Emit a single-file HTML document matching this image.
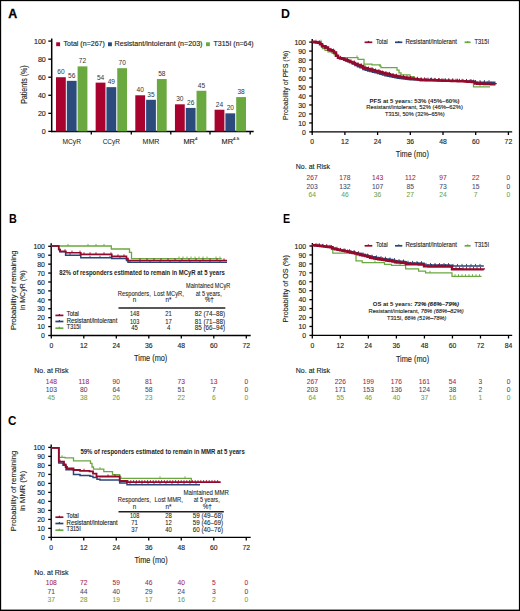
<!DOCTYPE html>
<html><head><meta charset="utf-8"><style>
html,body{margin:0;padding:0;background:#fff;}
svg{display:block;font-family:"Liberation Sans", sans-serif;}
</style></head><body>
<svg width="520" height="611" viewBox="0 0 520 611">
<text x="8.2" y="17.5" font-size="12.4" font-weight="bold" stroke="#000" stroke-width="0.3" fill="#000">A</text>
<line x1="51.7" y1="38.5" x2="51.7" y2="132.1" stroke="#000" stroke-width="1.5"/>
<line x1="51.0" y1="131.4" x2="253.7" y2="131.4" stroke="#000" stroke-width="1.5"/>
<line x1="48.3" y1="131.4" x2="51.7" y2="131.4" stroke="#000" stroke-width="1.3"/>
<text x="45.8" y="133.9" font-size="7.1" text-anchor="end" stroke="#231f20" stroke-width="0.13" fill="#231f20">0</text>
<line x1="48.3" y1="113.34" x2="51.7" y2="113.34" stroke="#000" stroke-width="1.3"/>
<text x="45.8" y="115.84" font-size="7.1" text-anchor="end" stroke="#231f20" stroke-width="0.13" fill="#231f20">20</text>
<line x1="48.3" y1="95.28" x2="51.7" y2="95.28" stroke="#000" stroke-width="1.3"/>
<text x="45.8" y="97.78" font-size="7.1" text-anchor="end" stroke="#231f20" stroke-width="0.13" fill="#231f20">40</text>
<line x1="48.3" y1="77.22" x2="51.7" y2="77.22" stroke="#000" stroke-width="1.3"/>
<text x="45.8" y="79.72" font-size="7.1" text-anchor="end" stroke="#231f20" stroke-width="0.13" fill="#231f20">60</text>
<line x1="48.3" y1="59.16" x2="51.7" y2="59.16" stroke="#000" stroke-width="1.3"/>
<text x="45.8" y="61.66" font-size="7.1" text-anchor="end" stroke="#231f20" stroke-width="0.13" fill="#231f20">80</text>
<line x1="48.3" y1="41.10000000000001" x2="51.7" y2="41.10000000000001" stroke="#000" stroke-width="1.3"/>
<text x="45.8" y="43.60000000000001" font-size="7.1" text-anchor="end" stroke="#231f20" stroke-width="0.13" fill="#231f20">100</text>
<line x1="91.3" y1="131.4" x2="91.3" y2="134.6" stroke="#000" stroke-width="1.3"/>
<line x1="131.3" y1="131.4" x2="131.3" y2="134.6" stroke="#000" stroke-width="1.3"/>
<line x1="170.8" y1="131.4" x2="170.8" y2="134.6" stroke="#000" stroke-width="1.3"/>
<line x1="210.0" y1="131.4" x2="210.0" y2="134.6" stroke="#000" stroke-width="1.3"/>
<line x1="250.2" y1="131.4" x2="250.2" y2="134.6" stroke="#000" stroke-width="1.3"/>
<text x="27.1" y="84.6" font-size="8.6" text-anchor="middle" stroke="#231f20" stroke-width="0.13" fill="#231f20" textLength="38.5" lengthAdjust="spacingAndGlyphs" transform="rotate(-90 27.1 84.6)">Patients (%)</text>
<rect x="56.0" y="77.22" width="9.8" height="54.18" fill="#a8022e"/>
<text x="60.9" y="74.12" font-size="6.6" text-anchor="middle" fill="#333">60</text>
<rect x="66.8" y="80.83200000000001" width="9.8" height="50.568" fill="#2c4b7d"/>
<text x="71.7" y="77.73200000000001" font-size="6.6" text-anchor="middle" fill="#333">56</text>
<rect x="77.6" y="66.384" width="9.8" height="65.016" fill="#6aa840"/>
<text x="82.5" y="63.284" font-size="6.6" text-anchor="middle" fill="#333">72</text>
<text x="71.7" y="143.9" font-size="7.4" text-anchor="middle" stroke="#231f20" stroke-width="0.05" fill="#231f20" textLength="18.5" lengthAdjust="spacingAndGlyphs">MCyR</text>
<rect x="95.65" y="82.638" width="9.8" height="48.762" fill="#a8022e"/>
<text x="100.55000000000001" y="79.53800000000001" font-size="6.6" text-anchor="middle" fill="#333">54</text>
<rect x="106.45" y="87.153" width="9.8" height="44.247" fill="#2c4b7d"/>
<text x="111.35000000000001" y="84.05300000000001" font-size="6.6" text-anchor="middle" fill="#333">49</text>
<rect x="117.25" y="68.19" width="9.8" height="63.21" fill="#6aa840"/>
<text x="122.15" y="65.09" font-size="6.6" text-anchor="middle" fill="#333">70</text>
<text x="111.35000000000001" y="143.9" font-size="7.4" text-anchor="middle" stroke="#231f20" stroke-width="0.05" fill="#231f20" textLength="17.4" lengthAdjust="spacingAndGlyphs">CCyR</text>
<rect x="135.3" y="95.28" width="9.8" height="36.120000000000005" fill="#a8022e"/>
<text x="140.20000000000002" y="92.18" font-size="6.6" text-anchor="middle" fill="#333">40</text>
<rect x="146.10000000000002" y="99.795" width="9.8" height="31.605" fill="#2c4b7d"/>
<text x="151.00000000000003" y="96.69500000000001" font-size="6.6" text-anchor="middle" fill="#333">35</text>
<rect x="156.9" y="79.02600000000001" width="9.8" height="52.374" fill="#6aa840"/>
<text x="161.8" y="75.92600000000002" font-size="6.6" text-anchor="middle" fill="#333">58</text>
<text x="151.0" y="143.9" font-size="7.4" text-anchor="middle" stroke="#231f20" stroke-width="0.05" fill="#231f20" textLength="16.8" lengthAdjust="spacingAndGlyphs">MMR</text>
<rect x="174.95" y="104.31" width="9.8" height="27.09" fill="#a8022e"/>
<text x="179.85" y="101.21000000000001" font-size="6.6" text-anchor="middle" fill="#333">30</text>
<rect x="185.75" y="107.922" width="9.8" height="23.478" fill="#2c4b7d"/>
<text x="190.65" y="104.822" font-size="6.6" text-anchor="middle" fill="#333">26</text>
<rect x="196.54999999999998" y="90.76500000000001" width="9.8" height="40.635" fill="#6aa840"/>
<text x="201.45" y="87.66500000000002" font-size="6.6" text-anchor="middle" fill="#333">45</text>
<text x="189.14999999999998" y="143.9" font-size="7.4" text-anchor="middle" stroke="#231f20" stroke-width="0.13" fill="#231f20">MR</text>
<text x="194.95" y="140.2" font-size="4.4" stroke="#231f20" stroke-width="0.13" fill="#231f20">4</text>
<rect x="214.6" y="109.72800000000001" width="9.8" height="21.672" fill="#a8022e"/>
<text x="219.5" y="106.62800000000001" font-size="6.6" text-anchor="middle" fill="#333">24</text>
<rect x="225.4" y="113.34" width="9.8" height="18.060000000000002" fill="#2c4b7d"/>
<text x="230.3" y="110.24000000000001" font-size="6.6" text-anchor="middle" fill="#333">20</text>
<rect x="236.2" y="97.08600000000001" width="9.8" height="34.314" fill="#6aa840"/>
<text x="241.1" y="93.98600000000002" font-size="6.6" text-anchor="middle" fill="#333">38</text>
<text x="227.29999999999998" y="143.9" font-size="7.4" text-anchor="middle" stroke="#231f20" stroke-width="0.13" fill="#231f20">MR</text>
<text x="233.1" y="140.2" font-size="4.4" stroke="#231f20" stroke-width="0.13" fill="#231f20">4.5</text>
<rect x="56.2" y="42.3" width="3.9" height="3.9" fill="#a8022e"/>
<text x="63.5" y="46.1" font-size="7.0" stroke="#231f20" stroke-width="0.13" fill="#231f20" textLength="41.4" lengthAdjust="spacingAndGlyphs">Total (n=267)</text>
<rect x="108.0" y="42.3" width="3.9" height="3.9" fill="#2c4b7d"/>
<text x="114.5" y="46.1" font-size="7.0" stroke="#231f20" stroke-width="0.13" fill="#231f20" textLength="88" lengthAdjust="spacingAndGlyphs">Resistant/intolerant (n=203)</text>
<rect x="206.0" y="42.3" width="3.9" height="3.9" fill="#6aa840"/>
<text x="213.5" y="46.1" font-size="7.0" stroke="#231f20" stroke-width="0.13" fill="#231f20" textLength="40.2" lengthAdjust="spacingAndGlyphs">T315I (n=64)</text>
<text x="281.0" y="17.5" font-size="12.4" font-weight="bold" fill="#000" textLength="8.9" lengthAdjust="spacingAndGlyphs">D</text>
<line x1="312.2" y1="39.1" x2="312.2" y2="132.5" stroke="#000" stroke-width="1.4"/>
<line x1="311.5" y1="131.9" x2="512.2" y2="131.9" stroke="#000" stroke-width="1.4"/>
<line x1="309.2" y1="131.9" x2="312.2" y2="131.9" stroke="#000" stroke-width="1.3"/>
<text x="305.9" y="134.65" font-size="6.9" text-anchor="end" stroke="#231f20" stroke-width="0.13" fill="#231f20">0</text>
<line x1="309.2" y1="122.92" x2="312.2" y2="122.92" stroke="#000" stroke-width="1.3"/>
<text x="305.9" y="125.67" font-size="6.9" text-anchor="end" stroke="#231f20" stroke-width="0.13" fill="#231f20">10</text>
<line x1="309.2" y1="113.94" x2="312.2" y2="113.94" stroke="#000" stroke-width="1.3"/>
<text x="305.9" y="116.69" font-size="6.9" text-anchor="end" stroke="#231f20" stroke-width="0.13" fill="#231f20">20</text>
<line x1="309.2" y1="104.96000000000001" x2="312.2" y2="104.96000000000001" stroke="#000" stroke-width="1.3"/>
<text x="305.9" y="107.71000000000001" font-size="6.9" text-anchor="end" stroke="#231f20" stroke-width="0.13" fill="#231f20">30</text>
<line x1="309.2" y1="95.98" x2="312.2" y2="95.98" stroke="#000" stroke-width="1.3"/>
<text x="305.9" y="98.73" font-size="6.9" text-anchor="end" stroke="#231f20" stroke-width="0.13" fill="#231f20">40</text>
<line x1="309.2" y1="87.0" x2="312.2" y2="87.0" stroke="#000" stroke-width="1.3"/>
<text x="305.9" y="89.75" font-size="6.9" text-anchor="end" stroke="#231f20" stroke-width="0.13" fill="#231f20">50</text>
<line x1="309.2" y1="78.02" x2="312.2" y2="78.02" stroke="#000" stroke-width="1.3"/>
<text x="305.9" y="80.77" font-size="6.9" text-anchor="end" stroke="#231f20" stroke-width="0.13" fill="#231f20">60</text>
<line x1="309.2" y1="69.03999999999999" x2="312.2" y2="69.03999999999999" stroke="#000" stroke-width="1.3"/>
<text x="305.9" y="71.78999999999999" font-size="6.9" text-anchor="end" stroke="#231f20" stroke-width="0.13" fill="#231f20">70</text>
<line x1="309.2" y1="60.06" x2="312.2" y2="60.06" stroke="#000" stroke-width="1.3"/>
<text x="305.9" y="62.81" font-size="6.9" text-anchor="end" stroke="#231f20" stroke-width="0.13" fill="#231f20">80</text>
<line x1="309.2" y1="51.08" x2="312.2" y2="51.08" stroke="#000" stroke-width="1.3"/>
<text x="305.9" y="53.83" font-size="6.9" text-anchor="end" stroke="#231f20" stroke-width="0.13" fill="#231f20">90</text>
<line x1="309.2" y1="42.099999999999994" x2="312.2" y2="42.099999999999994" stroke="#000" stroke-width="1.3"/>
<text x="305.9" y="44.849999999999994" font-size="6.9" text-anchor="end" stroke="#231f20" stroke-width="0.13" fill="#231f20">100</text>
<line x1="312.2" y1="131.9" x2="312.2" y2="135.0" stroke="#000" stroke-width="1.3"/>
<text x="312.2" y="144.2" font-size="6.8" text-anchor="middle" stroke="#231f20" stroke-width="0.13" fill="#231f20">0</text>
<line x1="344.9" y1="131.9" x2="344.9" y2="135.0" stroke="#000" stroke-width="1.3"/>
<text x="344.9" y="144.2" font-size="6.8" text-anchor="middle" stroke="#231f20" stroke-width="0.13" fill="#231f20">12</text>
<line x1="377.6" y1="131.9" x2="377.6" y2="135.0" stroke="#000" stroke-width="1.3"/>
<text x="377.6" y="144.2" font-size="6.8" text-anchor="middle" stroke="#231f20" stroke-width="0.13" fill="#231f20">24</text>
<line x1="410.3" y1="131.9" x2="410.3" y2="135.0" stroke="#000" stroke-width="1.3"/>
<text x="410.3" y="144.2" font-size="6.8" text-anchor="middle" stroke="#231f20" stroke-width="0.13" fill="#231f20">36</text>
<line x1="443.0" y1="131.9" x2="443.0" y2="135.0" stroke="#000" stroke-width="1.3"/>
<text x="443.0" y="144.2" font-size="6.8" text-anchor="middle" stroke="#231f20" stroke-width="0.13" fill="#231f20">48</text>
<line x1="475.7" y1="131.9" x2="475.7" y2="135.0" stroke="#000" stroke-width="1.3"/>
<text x="475.7" y="144.2" font-size="6.8" text-anchor="middle" stroke="#231f20" stroke-width="0.13" fill="#231f20">60</text>
<line x1="508.4" y1="131.9" x2="508.4" y2="135.0" stroke="#000" stroke-width="1.3"/>
<text x="508.4" y="144.2" font-size="6.8" text-anchor="middle" stroke="#231f20" stroke-width="0.13" fill="#231f20">72</text>
<text x="412.3" y="157.3" font-size="9.2" text-anchor="middle" stroke="#231f20" stroke-width="0.13" fill="#231f20" textLength="33.2" lengthAdjust="spacingAndGlyphs">Time (mo)</text>
<text x="288.2" y="85.4" font-size="8.1" text-anchor="middle" stroke="#231f20" stroke-width="0.13" fill="#231f20" textLength="69.3" lengthAdjust="spacingAndGlyphs" transform="rotate(-90 288.2 85.4)">Probability of PFS (%)</text>
<line x1="364.6" y1="42.3" x2="372.3" y2="42.3" stroke="#940a2c" stroke-width="1.7"/>
<line x1="368.45000000000005" y1="40.9" x2="368.45000000000005" y2="42.3" stroke="#940a2c" stroke-width="1.2"/>
<text x="376" y="43.6" font-size="6.7" stroke="#231f20" stroke-width="0.13" fill="#231f20" textLength="11.7" lengthAdjust="spacingAndGlyphs">Total</text>
<line x1="395" y1="42.3" x2="402.3" y2="42.3" stroke="#2a4576" stroke-width="1.7"/>
<line x1="398.65" y1="40.9" x2="398.65" y2="42.3" stroke="#2a4576" stroke-width="1.2"/>
<text x="405.4" y="43.6" font-size="6.7" stroke="#231f20" stroke-width="0.13" fill="#231f20" textLength="51.6" lengthAdjust="spacingAndGlyphs">Resistant/intolerant</text>
<line x1="464.6" y1="42.3" x2="470.6" y2="42.3" stroke="#6aa840" stroke-width="1.7"/>
<line x1="467.6" y1="40.9" x2="467.6" y2="42.3" stroke="#6aa840" stroke-width="1.2"/>
<text x="474.5" y="43.6" font-size="6.7" stroke="#231f20" stroke-width="0.13" fill="#231f20" textLength="14.5" lengthAdjust="spacingAndGlyphs">T315I</text>
<text x="414.5" y="102.6" font-size="6.2" text-anchor="middle" font-weight="bold" fill="#231f20" textLength="90" lengthAdjust="spacingAndGlyphs">PFS at 5 years: 53% (45%–60%)</text>
<text x="414.6" y="109.4" font-size="6.0" text-anchor="middle" stroke="#231f20" stroke-width="0.13" fill="#231f20" textLength="96.5" lengthAdjust="spacingAndGlyphs">Resistant/intolerant, 52% (46%–62%)</text>
<text x="414.8" y="116.3" font-size="6.0" text-anchor="middle" stroke="#231f20" stroke-width="0.13" fill="#231f20" textLength="59.6" lengthAdjust="spacingAndGlyphs">T315I, 50% (32%–65%)</text>
<text x="295.8" y="169.2" font-size="7.0" stroke="#231f20" stroke-width="0.13" fill="#231f20">No. at Risk</text>
<text x="312.2" y="179.8" font-size="6.7" text-anchor="middle" stroke="#a3244a" stroke-width="0.05" fill="#a3244a">267</text>
<text x="344.9" y="179.8" font-size="6.7" text-anchor="middle" stroke="#a3244a" stroke-width="0.05" fill="#a3244a">178</text>
<text x="377.6" y="179.8" font-size="6.7" text-anchor="middle" stroke="#a3244a" stroke-width="0.05" fill="#a3244a">143</text>
<text x="410.3" y="179.8" font-size="6.7" text-anchor="middle" stroke="#a3244a" stroke-width="0.05" fill="#a3244a">112</text>
<text x="443.0" y="179.8" font-size="6.7" text-anchor="middle" stroke="#a3244a" stroke-width="0.05" fill="#a3244a">97</text>
<text x="475.7" y="179.8" font-size="6.7" text-anchor="middle" stroke="#a3244a" stroke-width="0.05" fill="#a3244a">22</text>
<text x="508.4" y="179.8" font-size="6.7" text-anchor="middle" stroke="#a3244a" stroke-width="0.05" fill="#a3244a">0</text>
<text x="312.2" y="188.7" font-size="6.7" text-anchor="middle" stroke="#3b4a72" stroke-width="0.05" fill="#3b4a72">203</text>
<text x="344.9" y="188.7" font-size="6.7" text-anchor="middle" stroke="#3b4a72" stroke-width="0.05" fill="#3b4a72">132</text>
<text x="377.6" y="188.7" font-size="6.7" text-anchor="middle" stroke="#3b4a72" stroke-width="0.05" fill="#3b4a72">107</text>
<text x="410.3" y="188.7" font-size="6.7" text-anchor="middle" stroke="#3b4a72" stroke-width="0.05" fill="#3b4a72">85</text>
<text x="443.0" y="188.7" font-size="6.7" text-anchor="middle" stroke="#3b4a72" stroke-width="0.05" fill="#3b4a72">73</text>
<text x="475.7" y="188.7" font-size="6.7" text-anchor="middle" stroke="#3b4a72" stroke-width="0.05" fill="#3b4a72">15</text>
<text x="508.4" y="188.7" font-size="6.7" text-anchor="middle" stroke="#3b4a72" stroke-width="0.05" fill="#3b4a72">0</text>
<text x="312.2" y="196.9" font-size="6.7" text-anchor="middle" stroke="#6fa24a" stroke-width="0.05" fill="#6fa24a">64</text>
<text x="344.9" y="196.9" font-size="6.7" text-anchor="middle" stroke="#6fa24a" stroke-width="0.05" fill="#6fa24a">46</text>
<text x="377.6" y="196.9" font-size="6.7" text-anchor="middle" stroke="#6fa24a" stroke-width="0.05" fill="#6fa24a">36</text>
<text x="410.3" y="196.9" font-size="6.7" text-anchor="middle" stroke="#6fa24a" stroke-width="0.05" fill="#6fa24a">27</text>
<text x="443.0" y="196.9" font-size="6.7" text-anchor="middle" stroke="#6fa24a" stroke-width="0.05" fill="#6fa24a">24</text>
<text x="475.7" y="196.9" font-size="6.7" text-anchor="middle" stroke="#6fa24a" stroke-width="0.05" fill="#6fa24a">7</text>
<text x="508.4" y="196.9" font-size="6.7" text-anchor="middle" stroke="#6fa24a" stroke-width="0.05" fill="#6fa24a">0</text>
<text x="282.9" y="223.1" font-size="12.4" font-weight="bold" fill="#000" textLength="7.1" lengthAdjust="spacingAndGlyphs">E</text>
<line x1="312.4" y1="243.0" x2="312.4" y2="336.0" stroke="#000" stroke-width="1.4"/>
<line x1="311.7" y1="335.4" x2="512.2" y2="335.4" stroke="#000" stroke-width="1.4"/>
<line x1="309.4" y1="335.4" x2="312.4" y2="335.4" stroke="#000" stroke-width="1.3"/>
<text x="306.09999999999997" y="338.15" font-size="6.9" text-anchor="end" stroke="#231f20" stroke-width="0.13" fill="#231f20">0</text>
<line x1="309.4" y1="326.46" x2="312.4" y2="326.46" stroke="#000" stroke-width="1.3"/>
<text x="306.09999999999997" y="329.21" font-size="6.9" text-anchor="end" stroke="#231f20" stroke-width="0.13" fill="#231f20">10</text>
<line x1="309.4" y1="317.52" x2="312.4" y2="317.52" stroke="#000" stroke-width="1.3"/>
<text x="306.09999999999997" y="320.27" font-size="6.9" text-anchor="end" stroke="#231f20" stroke-width="0.13" fill="#231f20">20</text>
<line x1="309.4" y1="308.58" x2="312.4" y2="308.58" stroke="#000" stroke-width="1.3"/>
<text x="306.09999999999997" y="311.33" font-size="6.9" text-anchor="end" stroke="#231f20" stroke-width="0.13" fill="#231f20">30</text>
<line x1="309.4" y1="299.64" x2="312.4" y2="299.64" stroke="#000" stroke-width="1.3"/>
<text x="306.09999999999997" y="302.39" font-size="6.9" text-anchor="end" stroke="#231f20" stroke-width="0.13" fill="#231f20">40</text>
<line x1="309.4" y1="290.7" x2="312.4" y2="290.7" stroke="#000" stroke-width="1.3"/>
<text x="306.09999999999997" y="293.45" font-size="6.9" text-anchor="end" stroke="#231f20" stroke-width="0.13" fill="#231f20">50</text>
<line x1="309.4" y1="281.76" x2="312.4" y2="281.76" stroke="#000" stroke-width="1.3"/>
<text x="306.09999999999997" y="284.51" font-size="6.9" text-anchor="end" stroke="#231f20" stroke-width="0.13" fill="#231f20">60</text>
<line x1="309.4" y1="272.82" x2="312.4" y2="272.82" stroke="#000" stroke-width="1.3"/>
<text x="306.09999999999997" y="275.57" font-size="6.9" text-anchor="end" stroke="#231f20" stroke-width="0.13" fill="#231f20">70</text>
<line x1="309.4" y1="263.88" x2="312.4" y2="263.88" stroke="#000" stroke-width="1.3"/>
<text x="306.09999999999997" y="266.63" font-size="6.9" text-anchor="end" stroke="#231f20" stroke-width="0.13" fill="#231f20">80</text>
<line x1="309.4" y1="254.94" x2="312.4" y2="254.94" stroke="#000" stroke-width="1.3"/>
<text x="306.09999999999997" y="257.69" font-size="6.9" text-anchor="end" stroke="#231f20" stroke-width="0.13" fill="#231f20">90</text>
<line x1="309.4" y1="246.0" x2="312.4" y2="246.0" stroke="#000" stroke-width="1.3"/>
<text x="306.09999999999997" y="248.75" font-size="6.9" text-anchor="end" stroke="#231f20" stroke-width="0.13" fill="#231f20">100</text>
<line x1="312.3" y1="335.4" x2="312.3" y2="338.5" stroke="#000" stroke-width="1.3"/>
<text x="312.3" y="347.8" font-size="6.8" text-anchor="middle" stroke="#231f20" stroke-width="0.13" fill="#231f20">0</text>
<line x1="340.33000000000004" y1="335.4" x2="340.33000000000004" y2="338.5" stroke="#000" stroke-width="1.3"/>
<text x="340.33000000000004" y="347.8" font-size="6.8" text-anchor="middle" stroke="#231f20" stroke-width="0.13" fill="#231f20">12</text>
<line x1="368.36" y1="335.4" x2="368.36" y2="338.5" stroke="#000" stroke-width="1.3"/>
<text x="368.36" y="347.8" font-size="6.8" text-anchor="middle" stroke="#231f20" stroke-width="0.13" fill="#231f20">24</text>
<line x1="396.39" y1="335.4" x2="396.39" y2="338.5" stroke="#000" stroke-width="1.3"/>
<text x="396.39" y="347.8" font-size="6.8" text-anchor="middle" stroke="#231f20" stroke-width="0.13" fill="#231f20">36</text>
<line x1="424.42" y1="335.4" x2="424.42" y2="338.5" stroke="#000" stroke-width="1.3"/>
<text x="424.42" y="347.8" font-size="6.8" text-anchor="middle" stroke="#231f20" stroke-width="0.13" fill="#231f20">48</text>
<line x1="452.45000000000005" y1="335.4" x2="452.45000000000005" y2="338.5" stroke="#000" stroke-width="1.3"/>
<text x="452.45000000000005" y="347.8" font-size="6.8" text-anchor="middle" stroke="#231f20" stroke-width="0.13" fill="#231f20">60</text>
<line x1="480.48" y1="335.4" x2="480.48" y2="338.5" stroke="#000" stroke-width="1.3"/>
<text x="480.48" y="347.8" font-size="6.8" text-anchor="middle" stroke="#231f20" stroke-width="0.13" fill="#231f20">72</text>
<line x1="508.51" y1="335.4" x2="508.51" y2="338.5" stroke="#000" stroke-width="1.3"/>
<text x="508.51" y="347.8" font-size="6.8" text-anchor="middle" stroke="#231f20" stroke-width="0.13" fill="#231f20">84</text>
<text x="412.5" y="361.7" font-size="9.2" text-anchor="middle" stroke="#231f20" stroke-width="0.13" fill="#231f20" textLength="33.2" lengthAdjust="spacingAndGlyphs">Time (mo)</text>
<text x="288.2" y="288.8" font-size="8.1" text-anchor="middle" stroke="#231f20" stroke-width="0.13" fill="#231f20" textLength="67.4" lengthAdjust="spacingAndGlyphs" transform="rotate(-90 288.2 288.8)">Probability of OS (%)</text>
<line x1="364.6" y1="245.8" x2="372.3" y2="245.8" stroke="#940a2c" stroke-width="1.7"/>
<line x1="368.45000000000005" y1="244.4" x2="368.45000000000005" y2="245.8" stroke="#940a2c" stroke-width="1.2"/>
<text x="376" y="246.8" font-size="6.7" stroke="#231f20" stroke-width="0.13" fill="#231f20" textLength="11.7" lengthAdjust="spacingAndGlyphs">Total</text>
<line x1="395" y1="245.8" x2="402.3" y2="245.8" stroke="#2a4576" stroke-width="1.7"/>
<line x1="398.65" y1="244.4" x2="398.65" y2="245.8" stroke="#2a4576" stroke-width="1.2"/>
<text x="405.4" y="246.8" font-size="6.7" stroke="#231f20" stroke-width="0.13" fill="#231f20" textLength="51.6" lengthAdjust="spacingAndGlyphs">Resistant/intolerant</text>
<line x1="464.6" y1="245.8" x2="470.6" y2="245.8" stroke="#6aa840" stroke-width="1.7"/>
<line x1="467.6" y1="244.4" x2="467.6" y2="245.8" stroke="#6aa840" stroke-width="1.2"/>
<text x="474.5" y="246.8" font-size="6.7" stroke="#231f20" stroke-width="0.13" fill="#231f20" textLength="14.5" lengthAdjust="spacingAndGlyphs">T315I</text>
<text x="415.9" y="305.9" font-size="6.2" text-anchor="middle" fill="#231f20" textLength="86.3" lengthAdjust="spacingAndGlyphs"><tspan font-weight="bold">OS at 5 years: </tspan><tspan font-weight="bold" font-style="italic" stroke="#231f20" stroke-width="0.12">73% (66%–79%)</tspan></text>
<text x="416.1" y="312.8" font-size="6.0" text-anchor="middle" fill="#231f20" textLength="95.2" lengthAdjust="spacingAndGlyphs"><tspan stroke="#231f20" stroke-width="0.13">Resistant/intolerant, </tspan><tspan font-style="italic" stroke="#231f20" stroke-width="0.13">76% (68%–82%)</tspan></text>
<text x="416.7" y="319.5" font-size="6.0" text-anchor="middle" fill="#231f20" textLength="59.3" lengthAdjust="spacingAndGlyphs"><tspan stroke="#231f20" stroke-width="0.13">T315I, </tspan><tspan font-style="italic" stroke="#231f20" stroke-width="0.13">66% (51%–78%)</tspan></text>
<text x="295.8" y="373" font-size="7.0" stroke="#231f20" stroke-width="0.13" fill="#231f20">No. at Risk</text>
<text x="312.3" y="383.6" font-size="6.7" text-anchor="middle" stroke="#a3244a" stroke-width="0.05" fill="#a3244a">267</text>
<text x="340.33000000000004" y="383.6" font-size="6.7" text-anchor="middle" stroke="#a3244a" stroke-width="0.05" fill="#a3244a">226</text>
<text x="368.36" y="383.6" font-size="6.7" text-anchor="middle" stroke="#a3244a" stroke-width="0.05" fill="#a3244a">199</text>
<text x="396.39" y="383.6" font-size="6.7" text-anchor="middle" stroke="#a3244a" stroke-width="0.05" fill="#a3244a">176</text>
<text x="424.42" y="383.6" font-size="6.7" text-anchor="middle" stroke="#a3244a" stroke-width="0.05" fill="#a3244a">161</text>
<text x="452.45000000000005" y="383.6" font-size="6.7" text-anchor="middle" stroke="#a3244a" stroke-width="0.05" fill="#a3244a">54</text>
<text x="480.48" y="383.6" font-size="6.7" text-anchor="middle" stroke="#a3244a" stroke-width="0.05" fill="#a3244a">3</text>
<text x="508.51" y="383.6" font-size="6.7" text-anchor="middle" stroke="#a3244a" stroke-width="0.05" fill="#a3244a">0</text>
<text x="312.3" y="392.0" font-size="6.7" text-anchor="middle" stroke="#3b4a72" stroke-width="0.05" fill="#3b4a72">203</text>
<text x="340.33000000000004" y="392.0" font-size="6.7" text-anchor="middle" stroke="#3b4a72" stroke-width="0.05" fill="#3b4a72">171</text>
<text x="368.36" y="392.0" font-size="6.7" text-anchor="middle" stroke="#3b4a72" stroke-width="0.05" fill="#3b4a72">153</text>
<text x="396.39" y="392.0" font-size="6.7" text-anchor="middle" stroke="#3b4a72" stroke-width="0.05" fill="#3b4a72">136</text>
<text x="424.42" y="392.0" font-size="6.7" text-anchor="middle" stroke="#3b4a72" stroke-width="0.05" fill="#3b4a72">124</text>
<text x="452.45000000000005" y="392.0" font-size="6.7" text-anchor="middle" stroke="#3b4a72" stroke-width="0.05" fill="#3b4a72">38</text>
<text x="480.48" y="392.0" font-size="6.7" text-anchor="middle" stroke="#3b4a72" stroke-width="0.05" fill="#3b4a72">2</text>
<text x="508.51" y="392.0" font-size="6.7" text-anchor="middle" stroke="#3b4a72" stroke-width="0.05" fill="#3b4a72">0</text>
<text x="312.3" y="400.4" font-size="6.7" text-anchor="middle" stroke="#6fa24a" stroke-width="0.05" fill="#6fa24a">64</text>
<text x="340.33000000000004" y="400.4" font-size="6.7" text-anchor="middle" stroke="#6fa24a" stroke-width="0.05" fill="#6fa24a">55</text>
<text x="368.36" y="400.4" font-size="6.7" text-anchor="middle" stroke="#6fa24a" stroke-width="0.05" fill="#6fa24a">46</text>
<text x="396.39" y="400.4" font-size="6.7" text-anchor="middle" stroke="#6fa24a" stroke-width="0.05" fill="#6fa24a">40</text>
<text x="424.42" y="400.4" font-size="6.7" text-anchor="middle" stroke="#6fa24a" stroke-width="0.05" fill="#6fa24a">37</text>
<text x="452.45000000000005" y="400.4" font-size="6.7" text-anchor="middle" stroke="#6fa24a" stroke-width="0.05" fill="#6fa24a">16</text>
<text x="480.48" y="400.4" font-size="6.7" text-anchor="middle" stroke="#6fa24a" stroke-width="0.05" fill="#6fa24a">1</text>
<text x="508.51" y="400.4" font-size="6.7" text-anchor="middle" stroke="#6fa24a" stroke-width="0.05" fill="#6fa24a">0</text>
<text x="9.1" y="222.9" font-size="12.2" font-weight="bold" fill="#000" textLength="7.8" lengthAdjust="spacingAndGlyphs">B</text>
<line x1="51.2" y1="243.3" x2="51.2" y2="336.1" stroke="#000" stroke-width="1.4"/>
<line x1="50.5" y1="335.5" x2="250.7" y2="335.5" stroke="#000" stroke-width="1.4"/>
<line x1="48.2" y1="335.5" x2="51.2" y2="335.5" stroke="#000" stroke-width="1.3"/>
<text x="44.900000000000006" y="338.25" font-size="6.9" text-anchor="end" stroke="#231f20" stroke-width="0.13" fill="#231f20">0</text>
<line x1="48.2" y1="326.58" x2="51.2" y2="326.58" stroke="#000" stroke-width="1.3"/>
<text x="44.900000000000006" y="329.33" font-size="6.9" text-anchor="end" stroke="#231f20" stroke-width="0.13" fill="#231f20">10</text>
<line x1="48.2" y1="317.66" x2="51.2" y2="317.66" stroke="#000" stroke-width="1.3"/>
<text x="44.900000000000006" y="320.41" font-size="6.9" text-anchor="end" stroke="#231f20" stroke-width="0.13" fill="#231f20">20</text>
<line x1="48.2" y1="308.74" x2="51.2" y2="308.74" stroke="#000" stroke-width="1.3"/>
<text x="44.900000000000006" y="311.49" font-size="6.9" text-anchor="end" stroke="#231f20" stroke-width="0.13" fill="#231f20">30</text>
<line x1="48.2" y1="299.82" x2="51.2" y2="299.82" stroke="#000" stroke-width="1.3"/>
<text x="44.900000000000006" y="302.57" font-size="6.9" text-anchor="end" stroke="#231f20" stroke-width="0.13" fill="#231f20">40</text>
<line x1="48.2" y1="290.9" x2="51.2" y2="290.9" stroke="#000" stroke-width="1.3"/>
<text x="44.900000000000006" y="293.65" font-size="6.9" text-anchor="end" stroke="#231f20" stroke-width="0.13" fill="#231f20">50</text>
<line x1="48.2" y1="281.98" x2="51.2" y2="281.98" stroke="#000" stroke-width="1.3"/>
<text x="44.900000000000006" y="284.73" font-size="6.9" text-anchor="end" stroke="#231f20" stroke-width="0.13" fill="#231f20">60</text>
<line x1="48.2" y1="273.06" x2="51.2" y2="273.06" stroke="#000" stroke-width="1.3"/>
<text x="44.900000000000006" y="275.81" font-size="6.9" text-anchor="end" stroke="#231f20" stroke-width="0.13" fill="#231f20">70</text>
<line x1="48.2" y1="264.14" x2="51.2" y2="264.14" stroke="#000" stroke-width="1.3"/>
<text x="44.900000000000006" y="266.89" font-size="6.9" text-anchor="end" stroke="#231f20" stroke-width="0.13" fill="#231f20">80</text>
<line x1="48.2" y1="255.22000000000003" x2="51.2" y2="255.22000000000003" stroke="#000" stroke-width="1.3"/>
<text x="44.900000000000006" y="257.97" font-size="6.9" text-anchor="end" stroke="#231f20" stroke-width="0.13" fill="#231f20">90</text>
<line x1="48.2" y1="246.3" x2="51.2" y2="246.3" stroke="#000" stroke-width="1.3"/>
<text x="44.900000000000006" y="249.05" font-size="6.9" text-anchor="end" stroke="#231f20" stroke-width="0.13" fill="#231f20">100</text>
<line x1="51.3" y1="335.5" x2="51.3" y2="338.6" stroke="#000" stroke-width="1.3"/>
<text x="51.3" y="347.7" font-size="6.8" text-anchor="middle" stroke="#231f20" stroke-width="0.13" fill="#231f20">0</text>
<line x1="83.8" y1="335.5" x2="83.8" y2="338.6" stroke="#000" stroke-width="1.3"/>
<text x="83.8" y="347.7" font-size="6.8" text-anchor="middle" stroke="#231f20" stroke-width="0.13" fill="#231f20">12</text>
<line x1="116.3" y1="335.5" x2="116.3" y2="338.6" stroke="#000" stroke-width="1.3"/>
<text x="116.3" y="347.7" font-size="6.8" text-anchor="middle" stroke="#231f20" stroke-width="0.13" fill="#231f20">24</text>
<line x1="148.8" y1="335.5" x2="148.8" y2="338.6" stroke="#000" stroke-width="1.3"/>
<text x="148.8" y="347.7" font-size="6.8" text-anchor="middle" stroke="#231f20" stroke-width="0.13" fill="#231f20">36</text>
<line x1="181.3" y1="335.5" x2="181.3" y2="338.6" stroke="#000" stroke-width="1.3"/>
<text x="181.3" y="347.7" font-size="6.8" text-anchor="middle" stroke="#231f20" stroke-width="0.13" fill="#231f20">48</text>
<line x1="213.8" y1="335.5" x2="213.8" y2="338.6" stroke="#000" stroke-width="1.3"/>
<text x="213.8" y="347.7" font-size="6.8" text-anchor="middle" stroke="#231f20" stroke-width="0.13" fill="#231f20">60</text>
<line x1="246.3" y1="335.5" x2="246.3" y2="338.6" stroke="#000" stroke-width="1.3"/>
<text x="246.3" y="347.7" font-size="6.8" text-anchor="middle" stroke="#231f20" stroke-width="0.13" fill="#231f20">72</text>
<text x="150.7" y="361.0" font-size="9.2" text-anchor="middle" stroke="#231f20" stroke-width="0.13" fill="#231f20" textLength="33.2" lengthAdjust="spacingAndGlyphs">Time (mo)</text>
<text x="15.6" y="290.3" font-size="8.1" text-anchor="middle" stroke="#231f20" stroke-width="0.13" fill="#231f20" textLength="79.5" lengthAdjust="spacingAndGlyphs" transform="rotate(-90 15.6 290.3)">Probability of remaining</text>
<text x="25.2" y="290.3" font-size="8.1" text-anchor="middle" stroke="#231f20" stroke-width="0.13" fill="#231f20" textLength="39.8" lengthAdjust="spacingAndGlyphs" transform="rotate(-90 25.2 290.3)">in MCyR (%)</text>
<text x="142.0" y="275.2" font-size="6.5" text-anchor="middle" font-weight="bold" fill="#231f20" textLength="165.5" lengthAdjust="spacingAndGlyphs">82% of responders estimated to remain in MCyR at 5 years</text>
<text x="8.1" y="424.6" font-size="12.9" font-weight="bold" fill="#000" textLength="8.4" lengthAdjust="spacingAndGlyphs">C</text>
<line x1="51.2" y1="444.4" x2="51.2" y2="538.0" stroke="#000" stroke-width="1.4"/>
<line x1="50.5" y1="537.4" x2="250.7" y2="537.4" stroke="#000" stroke-width="1.4"/>
<line x1="48.2" y1="537.4" x2="51.2" y2="537.4" stroke="#000" stroke-width="1.3"/>
<text x="44.900000000000006" y="540.15" font-size="6.9" text-anchor="end" stroke="#231f20" stroke-width="0.13" fill="#231f20">0</text>
<line x1="48.2" y1="528.4" x2="51.2" y2="528.4" stroke="#000" stroke-width="1.3"/>
<text x="44.900000000000006" y="531.15" font-size="6.9" text-anchor="end" stroke="#231f20" stroke-width="0.13" fill="#231f20">10</text>
<line x1="48.2" y1="519.4" x2="51.2" y2="519.4" stroke="#000" stroke-width="1.3"/>
<text x="44.900000000000006" y="522.15" font-size="6.9" text-anchor="end" stroke="#231f20" stroke-width="0.13" fill="#231f20">20</text>
<line x1="48.2" y1="510.4" x2="51.2" y2="510.4" stroke="#000" stroke-width="1.3"/>
<text x="44.900000000000006" y="513.15" font-size="6.9" text-anchor="end" stroke="#231f20" stroke-width="0.13" fill="#231f20">30</text>
<line x1="48.2" y1="501.4" x2="51.2" y2="501.4" stroke="#000" stroke-width="1.3"/>
<text x="44.900000000000006" y="504.15" font-size="6.9" text-anchor="end" stroke="#231f20" stroke-width="0.13" fill="#231f20">40</text>
<line x1="48.2" y1="492.4" x2="51.2" y2="492.4" stroke="#000" stroke-width="1.3"/>
<text x="44.900000000000006" y="495.15" font-size="6.9" text-anchor="end" stroke="#231f20" stroke-width="0.13" fill="#231f20">50</text>
<line x1="48.2" y1="483.4" x2="51.2" y2="483.4" stroke="#000" stroke-width="1.3"/>
<text x="44.900000000000006" y="486.15" font-size="6.9" text-anchor="end" stroke="#231f20" stroke-width="0.13" fill="#231f20">60</text>
<line x1="48.2" y1="474.4" x2="51.2" y2="474.4" stroke="#000" stroke-width="1.3"/>
<text x="44.900000000000006" y="477.15" font-size="6.9" text-anchor="end" stroke="#231f20" stroke-width="0.13" fill="#231f20">70</text>
<line x1="48.2" y1="465.4" x2="51.2" y2="465.4" stroke="#000" stroke-width="1.3"/>
<text x="44.900000000000006" y="468.15" font-size="6.9" text-anchor="end" stroke="#231f20" stroke-width="0.13" fill="#231f20">80</text>
<line x1="48.2" y1="456.4" x2="51.2" y2="456.4" stroke="#000" stroke-width="1.3"/>
<text x="44.900000000000006" y="459.15" font-size="6.9" text-anchor="end" stroke="#231f20" stroke-width="0.13" fill="#231f20">90</text>
<line x1="48.2" y1="447.4" x2="51.2" y2="447.4" stroke="#000" stroke-width="1.3"/>
<text x="44.900000000000006" y="450.15" font-size="6.9" text-anchor="end" stroke="#231f20" stroke-width="0.13" fill="#231f20">100</text>
<line x1="51.25" y1="537.4" x2="51.25" y2="540.5" stroke="#000" stroke-width="1.3"/>
<text x="51.25" y="549.5" font-size="6.8" text-anchor="middle" stroke="#231f20" stroke-width="0.13" fill="#231f20">0</text>
<line x1="83.75" y1="537.4" x2="83.75" y2="540.5" stroke="#000" stroke-width="1.3"/>
<text x="83.75" y="549.5" font-size="6.8" text-anchor="middle" stroke="#231f20" stroke-width="0.13" fill="#231f20">12</text>
<line x1="116.25" y1="537.4" x2="116.25" y2="540.5" stroke="#000" stroke-width="1.3"/>
<text x="116.25" y="549.5" font-size="6.8" text-anchor="middle" stroke="#231f20" stroke-width="0.13" fill="#231f20">24</text>
<line x1="148.75" y1="537.4" x2="148.75" y2="540.5" stroke="#000" stroke-width="1.3"/>
<text x="148.75" y="549.5" font-size="6.8" text-anchor="middle" stroke="#231f20" stroke-width="0.13" fill="#231f20">36</text>
<line x1="181.25" y1="537.4" x2="181.25" y2="540.5" stroke="#000" stroke-width="1.3"/>
<text x="181.25" y="549.5" font-size="6.8" text-anchor="middle" stroke="#231f20" stroke-width="0.13" fill="#231f20">48</text>
<line x1="213.75" y1="537.4" x2="213.75" y2="540.5" stroke="#000" stroke-width="1.3"/>
<text x="213.75" y="549.5" font-size="6.8" text-anchor="middle" stroke="#231f20" stroke-width="0.13" fill="#231f20">60</text>
<line x1="246.25" y1="537.4" x2="246.25" y2="540.5" stroke="#000" stroke-width="1.3"/>
<text x="246.25" y="549.5" font-size="6.8" text-anchor="middle" stroke="#231f20" stroke-width="0.13" fill="#231f20">72</text>
<text x="151.0" y="563.0" font-size="9.2" text-anchor="middle" stroke="#231f20" stroke-width="0.13" fill="#231f20" textLength="33.2" lengthAdjust="spacingAndGlyphs">Time (mo)</text>
<text x="15.6" y="490.9" font-size="8.1" text-anchor="middle" stroke="#231f20" stroke-width="0.13" fill="#231f20" textLength="80.5" lengthAdjust="spacingAndGlyphs" transform="rotate(-90 15.6 490.9)">Probability of remaining</text>
<text x="25.3" y="490.9" font-size="8.1" text-anchor="middle" stroke="#231f20" stroke-width="0.13" fill="#231f20" textLength="40.2" lengthAdjust="spacingAndGlyphs" transform="rotate(-90 25.3 490.9)">in MMR (%)</text>
<text x="162.6" y="453.7" font-size="6.5" text-anchor="middle" font-weight="bold" fill="#231f20" textLength="164.4" lengthAdjust="spacingAndGlyphs">59% of responders estimated to remain in MMR at 5 years</text>
<path d="M51.3,246.0 H111.3 V246.0 H111.3 V249.0 H129 V249.0 H129.5 V252.3 H131.5 V258.6 H221.7 V258.6" stroke="#6aa840" stroke-width="1.3" fill="none" stroke-linejoin="miter"/>
<path d=" M68,243.9 V246.0 M88,243.9 V246.0 M96,243.9 V246.0 M104,243.9 V246.0 M179,256.5 V258.6 M183,256.5 V258.6 M187,256.5 V258.6 M191,256.5 V258.6 M195,256.5 V258.6 M199,256.5 V258.6 M203,256.5 V258.6 M207,256.5 V258.6 M216,256.5 V258.6 M220,256.5 V258.6" stroke="#6aa840" stroke-width="0.9" fill="none" />
<path d="M51.3,246.0 H58.7 V249.5 H60 V251.8 H65.6 V255.2 H80.8 V257.8 H111.8 V258.6 H126.5 V260.5 H128 V262.2 H227 V262.2" stroke="#2a4576" stroke-width="1.5" fill="none" stroke-linejoin="miter"/>
<path d=" M70,253.1 V255.2 M80,253.1 V255.2 M90,255.70000000000002 V257.8 M100,255.70000000000002 V257.8 M110,255.70000000000002 V257.8 M120,256.5 V258.6 M130,260.09999999999997 V262.2 M140,260.09999999999997 V262.2 M150,260.09999999999997 V262.2 M160,260.09999999999997 V262.2 M170,260.09999999999997 V262.2 M180,260.09999999999997 V262.2 M190,260.09999999999997 V262.2 M200,260.09999999999997 V262.2 M210,260.09999999999997 V262.2 M220,260.09999999999997 V262.2" stroke="#2a4576" stroke-width="0.9" fill="none" />
<path d="M51.3,246.0 H58.7 V249.5 H60 V251.4 H65.8 V252.7 H80.8 V254.4 H111.8 V256.4 H126.5 V258.6 H128 V260.5 H227 V260.5" stroke="#940a2c" stroke-width="1.6" fill="none" stroke-linejoin="miter"/>
<path d=" M60,249.3 V251.4 M65,249.3 V251.4 M72,250.6 V252.7 M80,250.6 V252.7 M84,252.3 V254.4 M90,252.3 V254.4 M96,252.3 V254.4 M104,252.3 V254.4 M111,252.3 V254.4 M118,254.29999999999998 V256.4 M124,254.29999999999998 V256.4 M140,258.4 V260.5 M147,258.4 V260.5 M154,258.4 V260.5 M161,258.4 V260.5 M168,258.4 V260.5 M175,258.4 V260.5 M182,258.4 V260.5 M189,258.4 V260.5 M196,258.4 V260.5 M203,258.4 V260.5 M210,258.4 V260.5 M217,258.4 V260.5 M224,258.4 V260.5" stroke="#940a2c" stroke-width="0.9" fill="none" />
<path d="M51.3,447.8 H58.8 V457.4 H65 V457.9 H73.5 V460.8 H90.5 V463.3 H92 V467 H93.5 V469.2 H103.8 V471.6 H112.5 V474.6 H119.7 V478.4 H191.3 V482.3 H193 V482.3" stroke="#6aa840" stroke-width="1.3" fill="none" stroke-linejoin="miter"/>
<path d=" M62,455.29999999999995 V457.4 M100,467.09999999999997 V469.2 M121,476.29999999999995 V478.4 M160,476.29999999999995 V478.4 M185,476.29999999999995 V478.4" stroke="#6aa840" stroke-width="0.9" fill="none" />
<path d="M51.3,447.8 H58.8 V463.0 H63 V465.2 H66 V469.8 H73.5 V474.6 H80 V475.5 H90 V476.2 H93 V477.6 H97 V479.2 H100 V479.9 H119.7 V482.9 H127 V484.7 H200 V484.7" stroke="#2a4576" stroke-width="1.5" fill="none" stroke-linejoin="miter"/>
<path d=" M130,482.59999999999997 V484.7 M136,482.59999999999997 V484.7 M142,482.59999999999997 V484.7 M148,482.59999999999997 V484.7 M154,482.59999999999997 V484.7 M160,482.59999999999997 V484.7 M166,482.59999999999997 V484.7 M172,482.59999999999997 V484.7 M178,482.59999999999997 V484.7 M184,482.59999999999997 V484.7 M190,482.59999999999997 V484.7 M196,482.59999999999997 V484.7" stroke="#2a4576" stroke-width="0.9" fill="none" />
<path d="M51.3,447.8 H58.8 V461.7 H64 V464.5 H65.6 V467 H67 V468.3 H73.5 V470.0 H80 V470.8 H89.5 V471.4 H93 V473.7 H96.5 V476.3 H100 V476.5 H119.7 V481.0 H127 V482.2 H220.7 V482.2" stroke="#940a2c" stroke-width="1.8" fill="none" stroke-linejoin="miter"/>
<path d=" M60,459.59999999999997 V461.7 M66,464.9 V467 M84,468.7 V470.8 M93,471.59999999999997 V473.7 M108,474.4 V476.5 M115,474.4 V476.5 M128,480.09999999999997 V482.2 M130.8,480.09999999999997 V482.2 M133.6,480.09999999999997 V482.2 M136.4,480.09999999999997 V482.2 M139.2,480.09999999999997 V482.2 M142.0,480.09999999999997 V482.2 M144.8,480.09999999999997 V482.2 M147.6,480.09999999999997 V482.2 M150.4,480.09999999999997 V482.2 M153.2,480.09999999999997 V482.2 M156.0,480.09999999999997 V482.2 M158.8,480.09999999999997 V482.2 M161.6,480.09999999999997 V482.2 M164.4,480.09999999999997 V482.2 M167.2,480.09999999999997 V482.2 M170.0,480.09999999999997 V482.2 M172.8,480.09999999999997 V482.2 M175.6,480.09999999999997 V482.2 M178.4,480.09999999999997 V482.2 M181.2,480.09999999999997 V482.2 M184.0,480.09999999999997 V482.2 M186.8,480.09999999999997 V482.2 M189.6,480.09999999999997 V482.2 M192.4,480.09999999999997 V482.2 M195.2,480.09999999999997 V482.2 M198.0,480.09999999999997 V482.2 M200.8,480.09999999999997 V482.2 M203.6,480.09999999999997 V482.2 M206.4,480.09999999999997 V482.2 M209.2,480.09999999999997 V482.2 M212.0,480.09999999999997 V482.2 M214.8,480.09999999999997 V482.2 M217.6,480.09999999999997 V482.2" stroke="#940a2c" stroke-width="0.9" fill="none" />
<path d="M312.4,41.8 H320.5 V41.8 H321.5 V46 H322.5 V48.5 H325 V50.3 H328 V51.8 H332 V53.2 H334 V54.5 H336 V55.8 H338 V57.5 H357 V57.5 H358 V59.4 H363 V59.4 H364 V64.1 H372 V64.8 H380 V66.2 H381 V67.5 H395 V67.5 H397 V70.2 H399 V72.9 H401 V74.9 H410 V76.5 H414 V79.5 H420 V81.0 H473 V81.0 H473.5 V86.8 H490 V86.8" stroke="#6aa840" stroke-width="1.25" fill="none" stroke-linejoin="miter"/>
<path d=" M321,39.699999999999996 V41.8 M357,55.4 V57.5 M380,64.10000000000001 V66.2 M440,78.9 V81.0 M480,84.7 V86.8" stroke="#6aa840" stroke-width="0.9" fill="none" />
<path d="M312.4,41.8 H314.27 V42.13 H316.13 V42.47 H318.0 V42.8 H320.0 V44.2 H322.0 V46.4 H325.0 V48.0 H328.0 V49.8 H330.0 V50.55 H332.0 V51.3 H334.0 V52.8 H336.0 V56.2 H338.0 V58.2 H340.0 V58.75 H342.0 V59.3 H344.0 V60.1 H346.0 V60.9 H348.0 V61.7 H350.0 V62.5 H352.5 V64.0 H355.0 V65.5 H357.5 V66.6 H360.0 V67.7 H363.0 V69.5 H365.33 V70.17 H367.67 V70.83 H370.0 V71.5 H372.5 V72.1 H375.0 V72.7 H377.5 V73.45 H380.0 V74.2 H382.5 V74.9 H385.0 V75.6 H387.5 V76.15 H390.0 V76.7 H392.5 V77.2 H395.0 V77.7 H397.5 V78.1 H400.0 V78.5 H402.0 V78.74 H404.0 V78.98 H406.0 V79.22 H408.0 V79.46 H410.0 V79.7 H412.0 V79.74 H414.0 V79.78 H416.0 V79.82 H418.0 V79.86 H420.0 V79.9 H422.0 V79.92 H424.0 V79.94 H426.0 V79.96 H428.0 V79.98 H430.0 V80.0 H432.0 V80.1 H434.0 V80.2 H436.0 V80.3 H438.0 V80.4 H440.0 V80.5 H442.22 V80.54 H444.44 V80.59 H446.67 V80.63 H448.89 V80.68 H451.11 V80.72 H453.33 V80.77 H455.56 V80.81 H457.78 V80.86 H460.0 V80.9 H462.4 V80.96 H464.8 V81.02 H467.2 V81.08 H469.6 V81.14 H472.0 V81.2 H475.0 V82.2 H477.28 V82.2 H479.56 V82.2 H481.83 V82.2 H484.11 V82.2 H486.39 V82.2 H488.67 V82.2 H490.94 V82.2 H493.22 V82.2 H495.5 V82.2" stroke="#2a4576" stroke-width="1.6" fill="none" stroke-linejoin="miter"/>
<path d=" M318,40.699999999999996 V42.8 M322.5,44.3 V46.4 M327.0,45.9 V48.0 M331.5,48.449999999999996 V50.55 M336.0,54.1 V56.2 M340.5,56.65 V58.75 M345.0,58.0 V60.1 M349.5,59.6 V61.7 M354.0,61.9 V64.0 M358.5,64.5 V66.6 M363.0,67.4 V69.5 M367.5,68.07000000000001 V70.17 M372.0,69.4 V71.5 M376.5,70.60000000000001 V72.7 M381.0,72.10000000000001 V74.2 M385.5,73.5 V75.6 M390.0,74.60000000000001 V76.7 M394.5,75.10000000000001 V77.2 M399.0,76.0 V78.1 M403.5,76.64 V78.74 M408.0,77.36 V79.46 M412.5,77.64 V79.74 M417.0,77.72 V79.82 M421.5,77.80000000000001 V79.9 M426.0,77.86 V79.96 M430.5,77.9 V80.0 M435.0,78.10000000000001 V80.2 M439.5,78.30000000000001 V80.4 M444.0,78.44000000000001 V80.54 M448.5,78.53 V80.63 M453.0,78.62 V80.72 M457.5,78.71000000000001 V80.81 M462.0,78.80000000000001 V80.9 M466.5,78.92 V81.02 M471.0,79.04 V81.14 M475.5,80.10000000000001 V82.2 M480.0,80.10000000000001 V82.2 M484.5,80.10000000000001 V82.2 M489.0,80.10000000000001 V82.2" stroke="#2a4576" stroke-width="0.9" fill="none" />
<path d="M312.4,41.8 H314.27 V42.13 H316.13 V42.47 H318.0 V42.8 H320.0 V44.2 H322.0 V46.2 H325.0 V47.6 H328.0 V49.5 H330.0 V50.25 H332.0 V51.0 H334.0 V52.4 H336.0 V55.8 H338.0 V57.7 H340.0 V58.2 H342.0 V58.7 H344.0 V59.5 H346.0 V60.3 H348.0 V61.1 H350.0 V61.9 H352.5 V62.9 H355.0 V63.9 H357.5 V64.9 H360.0 V65.9 H363.0 V67.7 H365.33 V68.3 H367.67 V68.9 H370.0 V69.5 H372.5 V70.2 H375.0 V70.9 H377.5 V71.55 H380.0 V72.2 H382.5 V72.9 H385.0 V73.6 H387.5 V74.25 H390.0 V74.9 H392.5 V75.5 H395.0 V76.1 H397.5 V76.5 H400.0 V76.9 H402.0 V77.2 H404.0 V77.5 H406.0 V77.8 H408.0 V78.1 H410.0 V78.4 H412.0 V78.66 H414.0 V78.92 H416.0 V79.18 H418.0 V79.44 H420.0 V79.7 H422.0 V79.76 H424.0 V79.82 H426.0 V79.88 H428.0 V79.94 H430.0 V80.0 H432.0 V80.12 H434.0 V80.24 H436.0 V80.36 H438.0 V80.48 H440.0 V80.6 H442.22 V80.67 H444.44 V80.73 H446.67 V80.8 H448.89 V80.87 H451.11 V80.93 H453.33 V81.0 H455.56 V81.07 H457.78 V81.13 H460.0 V81.2 H462.4 V81.36 H464.8 V81.52 H467.2 V81.68 H469.6 V81.84 H472.0 V82.0 H475.0 V83.6 H477.28 V83.68 H479.56 V83.76 H481.83 V83.83 H484.11 V83.91 H486.39 V83.99 H488.67 V84.07 H490.94 V84.14 H493.22 V84.22 H495.5 V84.3" stroke="#940a2c" stroke-width="2.5" fill="none" stroke-linejoin="miter"/>
<path d=" M316,39.75 V42.13 M319.5,40.419999999999995 V42.8 M323.0,43.82 V46.2 M326.5,45.22 V47.6 M330.0,47.87 V50.25 M333.5,48.62 V51.0 M337.0,53.419999999999995 V55.8 M340.5,55.82 V58.2 M344.0,57.12 V59.5 M347.5,57.919999999999995 V60.3 M351.0,59.519999999999996 V61.9 M354.5,60.519999999999996 V62.9 M358.0,62.52 V64.9 M361.5,63.52 V65.9 M365.0,65.32000000000001 V67.7 M368.5,66.52000000000001 V68.9 M372.0,67.12 V69.5 M375.5,68.52000000000001 V70.9 M379.0,69.17 V71.55 M382.5,70.52000000000001 V72.9 M386.0,71.22 V73.6 M389.5,71.87 V74.25 M393.0,73.12 V75.5 M396.5,73.72 V76.1 M400.0,74.52000000000001 V76.9 M403.5,74.82000000000001 V77.2 M407.0,75.42 V77.8 M410.5,76.02000000000001 V78.4 M414.0,76.54 V78.92 M417.5,76.80000000000001 V79.18 M421.0,77.32000000000001 V79.7 M424.5,77.44 V79.82 M428.0,77.56 V79.94 M431.5,77.62 V80.0 M435.0,77.86 V80.24 M438.5,78.10000000000001 V80.48 M442.0,78.22 V80.6 M445.5,78.35000000000001 V80.73 M449.0,78.49000000000001 V80.87 M452.5,78.55000000000001 V80.93 M456.0,78.69 V81.07 M459.5,78.75 V81.13 M463.0,78.98 V81.36 M466.5,79.14 V81.52 M470.0,79.46000000000001 V81.84 M473.5,79.62 V82.0 M477.0,81.22 V83.6 M480.5,81.38000000000001 V83.76 M484.0,81.45 V83.83 M487.5,81.61 V83.99 M491.0,81.76 V84.14" stroke="#940a2c" stroke-width="0.9" fill="none" />
<path d="M312.4,245.2 H320 V246 H330 V247.2 H332.8 V253.1 H356 V253.3 H356 V260.8 H362.2 V260.8 H362.2 V262.5 H384 V262.5 H384.5 V264.4 H391 V264.4 H391.5 V265.3 H405.6 V265.3 H405.6 V268.8 H418.6 V268.8 H418.6 V271.1 H425.6 V271.1 H425.6 V272.9 H452 V272.9 H452 V276.3 H481.5 V276.3" stroke="#6aa840" stroke-width="1.25" fill="none" stroke-linejoin="miter"/>
<path d=" M322,243.9 V246 M350,251.0 V253.1 M375,260.4 V262.5 M400,263.2 V265.3 M430,270.79999999999995 V272.9 M455,274.2 V276.3 M458.5,274.2 V276.3 M462.0,274.2 V276.3 M465.5,274.2 V276.3 M469.0,274.2 V276.3 M472.5,274.2 V276.3 M476.0,274.2 V276.3 M479.5,274.2 V276.3" stroke="#6aa840" stroke-width="0.9" fill="none" />
<path d="M312.4,245.2 H314.93 V245.47 H317.47 V245.73 H320.0 V246.0 H322.0 V246.24 H324.0 V246.48 H326.0 V246.72 H328.0 V246.96 H330.0 V247.2 H332.0 V248.4 H335.0 V249.0 H337.5 V249.5 H340.0 V250.0 H342.5 V250.4 H345.0 V250.8 H347.5 V251.3 H350.0 V251.8 H352.5 V252.3 H355.0 V252.8 H357.5 V253.4 H360.0 V254.0 H362.5 V254.5 H365.0 V255.0 H367.5 V255.7 H370.0 V256.4 H372.0 V256.76 H374.0 V257.12 H376.0 V257.48 H378.0 V257.84 H380.0 V258.2 H382.0 V258.48 H384.0 V258.76 H386.0 V259.04 H388.0 V259.32 H390.0 V259.6 H392.5 V260.2 H395.0 V260.8 H397.0 V261.0 H399.0 V261.2 H401.0 V261.4 H403.0 V261.6 H405.0 V261.8 H406.0 V262.8 H408.12 V262.86 H410.25 V262.93 H412.38 V262.99 H414.5 V263.05 H416.62 V263.11 H418.75 V263.18 H420.88 V263.24 H423.0 V263.3 H424.0 V265.0 H426.25 V265.02 H428.5 V265.03 H430.75 V265.05 H433.0 V265.07 H435.25 V265.08 H437.5 V265.1 H439.75 V265.12 H442.0 V265.13 H444.25 V265.15 H446.5 V265.17 H448.75 V265.18 H451.0 V265.2 H452.0 V266.0 H454.27 V266.0 H456.54 V266.0 H458.81 V266.0 H461.09 V266.0 H463.36 V266.0 H465.63 V266.0 H467.9 V266.0 H470.17 V266.0 H472.44 V266.0 H474.71 V266.0 H476.99 V266.0 H479.26 V266.0 H481.53 V266.0 H483.8 V266.0" stroke="#2a4576" stroke-width="1.6" fill="none" stroke-linejoin="miter"/>
<path d=" M318,243.63 V245.73 M322.5,244.14000000000001 V246.24 M327.0,244.62 V246.72 M331.5,245.1 V247.2 M336.0,246.9 V249.0 M340.5,247.9 V250.0 M345.0,248.70000000000002 V250.8 M349.5,249.20000000000002 V251.3 M354.0,250.20000000000002 V252.3 M358.5,251.3 V253.4 M363.0,252.4 V254.5 M367.5,253.6 V255.7 M372.0,254.66 V256.76 M376.5,255.38000000000002 V257.48 M381.0,256.09999999999997 V258.2 M385.5,256.65999999999997 V258.76 M390.0,257.5 V259.6 M394.5,258.09999999999997 V260.2 M399.0,259.09999999999997 V261.2 M403.5,259.5 V261.6 M408.0,260.7 V262.8 M412.5,260.89 V262.99 M417.0,261.01 V263.11 M421.5,261.14 V263.24 M426.0,262.9 V265.0 M430.5,262.92999999999995 V265.03 M435.0,262.96999999999997 V265.07 M439.5,263.0 V265.1 M444.0,263.03 V265.13 M448.5,263.07 V265.17 M453.0,263.9 V266.0 M457.5,263.9 V266.0 M462.0,263.9 V266.0 M466.5,263.9 V266.0 M471.0,263.9 V266.0 M475.5,263.9 V266.0 M480.0,263.9 V266.0" stroke="#2a4576" stroke-width="0.9" fill="none" />
<path d="M312.4,245.2 H314.93 V245.47 H317.47 V245.73 H320.0 V246.0 H322.0 V246.24 H324.0 V246.48 H326.0 V246.72 H328.0 V246.96 H330.0 V247.2 H332.0 V248.6 H335.0 V249.2 H337.5 V249.8 H340.0 V250.4 H342.5 V250.85 H345.0 V251.3 H347.5 V251.9 H350.0 V252.5 H352.5 V253.05 H355.0 V253.6 H357.5 V254.3 H360.0 V255.0 H362.5 V255.55 H365.0 V256.1 H367.5 V256.9 H370.0 V257.7 H372.0 V258.08 H374.0 V258.46 H376.0 V258.84 H378.0 V259.22 H380.0 V259.6 H382.0 V259.88 H384.0 V260.16 H386.0 V260.44 H388.0 V260.72 H390.0 V261.0 H392.5 V261.65 H395.0 V262.3 H397.0 V262.44 H399.0 V262.58 H401.0 V262.72 H403.0 V262.86 H405.0 V263.0 H406.0 V264.2 H408.12 V264.24 H410.25 V264.27 H412.38 V264.31 H414.5 V264.35 H416.62 V264.39 H418.75 V264.43 H420.88 V264.46 H423.0 V264.5 H424.0 V266.4 H426.25 V266.42 H428.5 V266.43 H430.75 V266.45 H433.0 V266.47 H435.25 V266.48 H437.5 V266.5 H439.75 V266.52 H442.0 V266.53 H444.25 V266.55 H446.5 V266.57 H448.75 V266.58 H451.0 V266.6 H452.0 V269.3 H454.27 V269.31 H456.54 V269.31 H458.81 V269.32 H461.09 V269.33 H463.36 V269.34 H465.63 V269.34 H467.9 V269.35 H470.17 V269.36 H472.44 V269.36 H474.71 V269.37 H476.99 V269.38 H479.26 V269.39 H481.53 V269.39 H483.8 V269.4" stroke="#940a2c" stroke-width="2.4" fill="none" stroke-linejoin="miter"/>
<path d=" M316,243.09 V245.47 M319.5,243.35 V245.73 M323.0,243.86 V246.24 M326.5,244.34 V246.72 M330.0,244.82 V247.2 M333.5,246.22 V248.6 M337.0,246.82 V249.2 M340.5,248.02 V250.4 M344.0,248.47 V250.85 M347.5,249.52 V251.9 M351.0,250.12 V252.5 M354.5,250.67000000000002 V253.05 M358.0,251.92000000000002 V254.3 M361.5,252.62 V255.0 M365.0,253.72000000000003 V256.1 M368.5,254.51999999999998 V256.9 M372.0,255.7 V258.08 M375.5,256.08 V258.46 M379.0,256.84000000000003 V259.22 M382.5,257.5 V259.88 M386.0,258.06 V260.44 M389.5,258.34000000000003 V260.72 M393.0,259.27 V261.65 M396.5,259.92 V262.3 M400.0,260.2 V262.58 M403.5,260.48 V262.86 M407.0,261.82 V264.2 M410.5,261.89 V264.27 M414.0,261.93 V264.31 M417.5,262.01 V264.39 M421.0,262.08 V264.46 M424.5,264.02 V266.4 M428.0,264.04 V266.42 M431.5,264.07 V266.45 M435.0,264.09000000000003 V266.47 M438.5,264.12 V266.5 M442.0,264.15 V266.53 M445.5,264.17 V266.55 M449.0,264.2 V266.58 M452.5,266.92 V269.3 M456.0,266.93 V269.31 M459.5,266.94 V269.32 M463.0,266.95 V269.33 M466.5,266.96 V269.34 M470.0,266.97 V269.35 M473.5,266.98 V269.36 M477.0,267.0 V269.38 M480.5,267.01 V269.39" stroke="#940a2c" stroke-width="0.9" fill="none" />
<line x1="55.4" y1="315.4" x2="63.4" y2="315.4" stroke="#940a2c" stroke-width="1.7"/>
<line x1="59.4" y1="314.0" x2="59.4" y2="315.4" stroke="#940a2c" stroke-width="1.2"/>
<text x="66.8" y="316.3" font-size="6.3" stroke="#231f20" stroke-width="0.13" fill="#231f20" textLength="12.1" lengthAdjust="spacingAndGlyphs">Total</text>
<line x1="55.4" y1="321.5" x2="63.4" y2="321.5" stroke="#2a4576" stroke-width="1.7"/>
<line x1="59.4" y1="320.1" x2="59.4" y2="321.5" stroke="#2a4576" stroke-width="1.2"/>
<text x="66.8" y="322.7" font-size="6.3" stroke="#231f20" stroke-width="0.13" fill="#231f20" textLength="50.5" lengthAdjust="spacingAndGlyphs">Resistant/intolerant</text>
<line x1="55.4" y1="328.2" x2="63.4" y2="328.2" stroke="#6aa840" stroke-width="1.7"/>
<line x1="59.4" y1="326.8" x2="59.4" y2="328.2" stroke="#6aa840" stroke-width="1.2"/>
<text x="66.8" y="329.4" font-size="6.3" stroke="#231f20" stroke-width="0.13" fill="#231f20" textLength="14.1" lengthAdjust="spacingAndGlyphs">T315I</text>
<line x1="55.4" y1="517.2" x2="63.4" y2="517.2" stroke="#940a2c" stroke-width="1.7"/>
<line x1="59.4" y1="515.8000000000001" x2="59.4" y2="517.2" stroke="#940a2c" stroke-width="1.2"/>
<text x="66.6" y="517.9" font-size="6.3" stroke="#231f20" stroke-width="0.13" fill="#231f20" textLength="12.1" lengthAdjust="spacingAndGlyphs">Total</text>
<line x1="55.4" y1="523.5" x2="63.4" y2="523.5" stroke="#2a4576" stroke-width="1.7"/>
<line x1="59.4" y1="522.1" x2="59.4" y2="523.5" stroke="#2a4576" stroke-width="1.2"/>
<text x="66.6" y="524.7" font-size="6.3" stroke="#231f20" stroke-width="0.13" fill="#231f20" textLength="51.1" lengthAdjust="spacingAndGlyphs">Resistant/intolerant</text>
<line x1="55.4" y1="530.2" x2="63.4" y2="530.2" stroke="#6aa840" stroke-width="1.7"/>
<line x1="59.4" y1="528.8000000000001" x2="59.4" y2="530.2" stroke="#6aa840" stroke-width="1.2"/>
<text x="66.6" y="531.1" font-size="6.3" stroke="#231f20" stroke-width="0.13" fill="#231f20" textLength="14.1" lengthAdjust="spacingAndGlyphs">T315I</text>
<text x="208.2" y="288.2" font-size="6.3" text-anchor="middle" stroke="#231f20" stroke-width="0.08" fill="#231f20" textLength="44.3" lengthAdjust="spacingAndGlyphs">Maintained MCyR</text>
<text x="134.3" y="295.6" font-size="6.3" text-anchor="middle" stroke="#231f20" stroke-width="0.08" fill="#231f20" textLength="33" lengthAdjust="spacingAndGlyphs">Responders,</text>
<text x="168.8" y="295.6" font-size="6.3" text-anchor="middle" stroke="#231f20" stroke-width="0.08" fill="#231f20" textLength="30" lengthAdjust="spacingAndGlyphs">Lost MCyR,</text>
<text x="208.7" y="295.6" font-size="6.3" text-anchor="middle" stroke="#231f20" stroke-width="0.08" fill="#231f20" textLength="26" lengthAdjust="spacingAndGlyphs">at 5 years,</text>
<text x="134.6" y="302.3" font-size="6.3" text-anchor="middle" stroke="#231f20" stroke-width="0.08" fill="#231f20">n</text>
<text x="168.6" y="302.3" font-size="6.3" text-anchor="middle" stroke="#231f20" stroke-width="0.08" fill="#231f20">n*</text>
<text x="209.2" y="302.3" font-size="6.3" text-anchor="middle" stroke="#231f20" stroke-width="0.08" fill="#231f20">%†</text>
<line x1="118.5" y1="308.0" x2="225.3" y2="308.0" stroke="#231f20" stroke-width="1.5"/>
<text x="134.6" y="316.4" font-size="6.4" text-anchor="middle" stroke="#231f20" stroke-width="0.08" fill="#231f20" textLength="9.3" lengthAdjust="spacingAndGlyphs">148</text>
<text x="168.6" y="316.4" font-size="6.4" text-anchor="middle" stroke="#231f20" stroke-width="0.08" fill="#231f20" textLength="6.6" lengthAdjust="spacingAndGlyphs">21</text>
<text x="209.9" y="316.4" font-size="6.5" text-anchor="middle" stroke="#231f20" stroke-width="0.08" fill="#231f20" textLength="30.5" lengthAdjust="spacingAndGlyphs">82 (74–88)</text>
<text x="134.6" y="323.5" font-size="6.4" text-anchor="middle" stroke="#231f20" stroke-width="0.08" fill="#231f20" textLength="9.3" lengthAdjust="spacingAndGlyphs">103</text>
<text x="168.6" y="323.5" font-size="6.4" text-anchor="middle" stroke="#231f20" stroke-width="0.08" fill="#231f20" textLength="6.6" lengthAdjust="spacingAndGlyphs">17</text>
<text x="209.9" y="323.5" font-size="6.5" text-anchor="middle" stroke="#231f20" stroke-width="0.08" fill="#231f20" textLength="30.5" lengthAdjust="spacingAndGlyphs">81 (71–88)</text>
<text x="134.6" y="330.2" font-size="6.4" text-anchor="middle" stroke="#231f20" stroke-width="0.08" fill="#231f20" textLength="6.6" lengthAdjust="spacingAndGlyphs">45</text>
<text x="168.6" y="330.2" font-size="6.4" text-anchor="middle" stroke="#231f20" stroke-width="0.08" fill="#231f20" textLength="3.4" lengthAdjust="spacingAndGlyphs">4</text>
<text x="209.9" y="330.2" font-size="6.5" text-anchor="middle" stroke="#231f20" stroke-width="0.08" fill="#231f20" textLength="30.5" lengthAdjust="spacingAndGlyphs">85 (66–94)</text>
<text x="206.2" y="494.8" font-size="6.3" text-anchor="middle" stroke="#231f20" stroke-width="0.08" fill="#231f20" textLength="45.5" lengthAdjust="spacingAndGlyphs">Maintained MMR</text>
<text x="134.3" y="501.6" font-size="6.3" text-anchor="middle" stroke="#231f20" stroke-width="0.08" fill="#231f20" textLength="33" lengthAdjust="spacingAndGlyphs">Responders,</text>
<text x="168.8" y="501.6" font-size="6.3" text-anchor="middle" stroke="#231f20" stroke-width="0.08" fill="#231f20" textLength="28.4" lengthAdjust="spacingAndGlyphs">Lost MMR,</text>
<text x="206.7" y="501.6" font-size="6.3" text-anchor="middle" stroke="#231f20" stroke-width="0.08" fill="#231f20" textLength="26" lengthAdjust="spacingAndGlyphs">at 5 years,</text>
<text x="134.6" y="508.5" font-size="6.3" text-anchor="middle" stroke="#231f20" stroke-width="0.08" fill="#231f20">n</text>
<text x="168.6" y="508.5" font-size="6.3" text-anchor="middle" stroke="#231f20" stroke-width="0.08" fill="#231f20">n*</text>
<text x="207.2" y="508.5" font-size="6.3" text-anchor="middle" stroke="#231f20" stroke-width="0.08" fill="#231f20">%†</text>
<line x1="118.5" y1="511.7" x2="223.8" y2="511.7" stroke="#231f20" stroke-width="1.5"/>
<text x="134.6" y="518.3" font-size="6.4" text-anchor="middle" stroke="#231f20" stroke-width="0.08" fill="#231f20" textLength="9.3" lengthAdjust="spacingAndGlyphs">108</text>
<text x="168.6" y="518.3" font-size="6.4" text-anchor="middle" stroke="#231f20" stroke-width="0.08" fill="#231f20" textLength="6.6" lengthAdjust="spacingAndGlyphs">28</text>
<text x="207.9" y="518.3" font-size="6.5" text-anchor="middle" stroke="#231f20" stroke-width="0.08" fill="#231f20" textLength="30.5" lengthAdjust="spacingAndGlyphs">59 (49–68)</text>
<text x="134.6" y="525.1" font-size="6.4" text-anchor="middle" stroke="#231f20" stroke-width="0.08" fill="#231f20" textLength="6.6" lengthAdjust="spacingAndGlyphs">71</text>
<text x="168.6" y="525.1" font-size="6.4" text-anchor="middle" stroke="#231f20" stroke-width="0.08" fill="#231f20" textLength="6.6" lengthAdjust="spacingAndGlyphs">12</text>
<text x="207.9" y="525.1" font-size="6.5" text-anchor="middle" stroke="#231f20" stroke-width="0.08" fill="#231f20" textLength="30.5" lengthAdjust="spacingAndGlyphs">59 (46–69)</text>
<text x="134.6" y="531.9" font-size="6.4" text-anchor="middle" stroke="#231f20" stroke-width="0.08" fill="#231f20" textLength="6.6" lengthAdjust="spacingAndGlyphs">37</text>
<text x="168.6" y="531.9" font-size="6.4" text-anchor="middle" stroke="#231f20" stroke-width="0.08" fill="#231f20" textLength="6.6" lengthAdjust="spacingAndGlyphs">40</text>
<text x="207.9" y="531.9" font-size="6.5" text-anchor="middle" stroke="#231f20" stroke-width="0.08" fill="#231f20" textLength="30.5" lengthAdjust="spacingAndGlyphs">60 (40–76)</text>
<text x="34.2" y="372.7" font-size="7.0" stroke="#231f20" stroke-width="0.13" fill="#231f20">No. at Risk</text>
<text x="51.3" y="383.8" font-size="6.7" text-anchor="middle" stroke="#a3244a" stroke-width="0.05" fill="#a3244a">148</text>
<text x="83.8" y="383.8" font-size="6.7" text-anchor="middle" stroke="#a3244a" stroke-width="0.05" fill="#a3244a">118</text>
<text x="116.3" y="383.8" font-size="6.7" text-anchor="middle" stroke="#a3244a" stroke-width="0.05" fill="#a3244a">90</text>
<text x="148.8" y="383.8" font-size="6.7" text-anchor="middle" stroke="#a3244a" stroke-width="0.05" fill="#a3244a">81</text>
<text x="181.3" y="383.8" font-size="6.7" text-anchor="middle" stroke="#a3244a" stroke-width="0.05" fill="#a3244a">73</text>
<text x="213.8" y="383.8" font-size="6.7" text-anchor="middle" stroke="#a3244a" stroke-width="0.05" fill="#a3244a">13</text>
<text x="246.3" y="383.8" font-size="6.7" text-anchor="middle" stroke="#a3244a" stroke-width="0.05" fill="#a3244a">0</text>
<text x="51.3" y="392.0" font-size="6.7" text-anchor="middle" stroke="#3b4a72" stroke-width="0.05" fill="#3b4a72">103</text>
<text x="83.8" y="392.0" font-size="6.7" text-anchor="middle" stroke="#3b4a72" stroke-width="0.05" fill="#3b4a72">80</text>
<text x="116.3" y="392.0" font-size="6.7" text-anchor="middle" stroke="#3b4a72" stroke-width="0.05" fill="#3b4a72">64</text>
<text x="148.8" y="392.0" font-size="6.7" text-anchor="middle" stroke="#3b4a72" stroke-width="0.05" fill="#3b4a72">58</text>
<text x="181.3" y="392.0" font-size="6.7" text-anchor="middle" stroke="#3b4a72" stroke-width="0.05" fill="#3b4a72">51</text>
<text x="213.8" y="392.0" font-size="6.7" text-anchor="middle" stroke="#3b4a72" stroke-width="0.05" fill="#3b4a72">7</text>
<text x="246.3" y="392.0" font-size="6.7" text-anchor="middle" stroke="#3b4a72" stroke-width="0.05" fill="#3b4a72">0</text>
<text x="51.3" y="400.2" font-size="6.7" text-anchor="middle" stroke="#6fa24a" stroke-width="0.05" fill="#6fa24a">45</text>
<text x="83.8" y="400.2" font-size="6.7" text-anchor="middle" stroke="#6fa24a" stroke-width="0.05" fill="#6fa24a">38</text>
<text x="116.3" y="400.2" font-size="6.7" text-anchor="middle" stroke="#6fa24a" stroke-width="0.05" fill="#6fa24a">26</text>
<text x="148.8" y="400.2" font-size="6.7" text-anchor="middle" stroke="#6fa24a" stroke-width="0.05" fill="#6fa24a">23</text>
<text x="181.3" y="400.2" font-size="6.7" text-anchor="middle" stroke="#6fa24a" stroke-width="0.05" fill="#6fa24a">22</text>
<text x="213.8" y="400.2" font-size="6.7" text-anchor="middle" stroke="#6fa24a" stroke-width="0.05" fill="#6fa24a">6</text>
<text x="246.3" y="400.2" font-size="6.7" text-anchor="middle" stroke="#6fa24a" stroke-width="0.05" fill="#6fa24a">0</text>
<text x="34.2" y="574.8" font-size="7.0" stroke="#231f20" stroke-width="0.13" fill="#231f20">No. at Risk</text>
<text x="51.25" y="585.0" font-size="6.7" text-anchor="middle" stroke="#a3244a" stroke-width="0.05" fill="#a3244a">108</text>
<text x="83.75" y="585.0" font-size="6.7" text-anchor="middle" stroke="#a3244a" stroke-width="0.05" fill="#a3244a">72</text>
<text x="116.25" y="585.0" font-size="6.7" text-anchor="middle" stroke="#a3244a" stroke-width="0.05" fill="#a3244a">59</text>
<text x="148.75" y="585.0" font-size="6.7" text-anchor="middle" stroke="#a3244a" stroke-width="0.05" fill="#a3244a">46</text>
<text x="181.25" y="585.0" font-size="6.7" text-anchor="middle" stroke="#a3244a" stroke-width="0.05" fill="#a3244a">40</text>
<text x="213.75" y="585.0" font-size="6.7" text-anchor="middle" stroke="#a3244a" stroke-width="0.05" fill="#a3244a">5</text>
<text x="246.25" y="585.0" font-size="6.7" text-anchor="middle" stroke="#a3244a" stroke-width="0.05" fill="#a3244a">0</text>
<text x="51.25" y="593.7" font-size="6.7" text-anchor="middle" stroke="#3b4a72" stroke-width="0.05" fill="#3b4a72">71</text>
<text x="83.75" y="593.7" font-size="6.7" text-anchor="middle" stroke="#3b4a72" stroke-width="0.05" fill="#3b4a72">44</text>
<text x="116.25" y="593.7" font-size="6.7" text-anchor="middle" stroke="#3b4a72" stroke-width="0.05" fill="#3b4a72">40</text>
<text x="148.75" y="593.7" font-size="6.7" text-anchor="middle" stroke="#3b4a72" stroke-width="0.05" fill="#3b4a72">29</text>
<text x="181.25" y="593.7" font-size="6.7" text-anchor="middle" stroke="#3b4a72" stroke-width="0.05" fill="#3b4a72">24</text>
<text x="213.75" y="593.7" font-size="6.7" text-anchor="middle" stroke="#3b4a72" stroke-width="0.05" fill="#3b4a72">3</text>
<text x="246.25" y="593.7" font-size="6.7" text-anchor="middle" stroke="#3b4a72" stroke-width="0.05" fill="#3b4a72">0</text>
<text x="51.25" y="602.3" font-size="6.7" text-anchor="middle" stroke="#6fa24a" stroke-width="0.05" fill="#6fa24a">37</text>
<text x="83.75" y="602.3" font-size="6.7" text-anchor="middle" stroke="#6fa24a" stroke-width="0.05" fill="#6fa24a">28</text>
<text x="116.25" y="602.3" font-size="6.7" text-anchor="middle" stroke="#6fa24a" stroke-width="0.05" fill="#6fa24a">19</text>
<text x="148.75" y="602.3" font-size="6.7" text-anchor="middle" stroke="#6fa24a" stroke-width="0.05" fill="#6fa24a">17</text>
<text x="181.25" y="602.3" font-size="6.7" text-anchor="middle" stroke="#6fa24a" stroke-width="0.05" fill="#6fa24a">16</text>
<text x="213.75" y="602.3" font-size="6.7" text-anchor="middle" stroke="#6fa24a" stroke-width="0.05" fill="#6fa24a">2</text>
<text x="246.25" y="602.3" font-size="6.7" text-anchor="middle" stroke="#6fa24a" stroke-width="0.05" fill="#6fa24a">0</text>
<rect x="0" y="0" width="520" height="1.15" fill="#000"/>
<rect x="0" y="0" width="1.15" height="611" fill="#000"/>
<rect x="518.9" y="0" width="1.1" height="611" fill="#000"/>
<rect x="0" y="609.6" width="520" height="1.4" fill="#000"/>
</svg></body></html>
